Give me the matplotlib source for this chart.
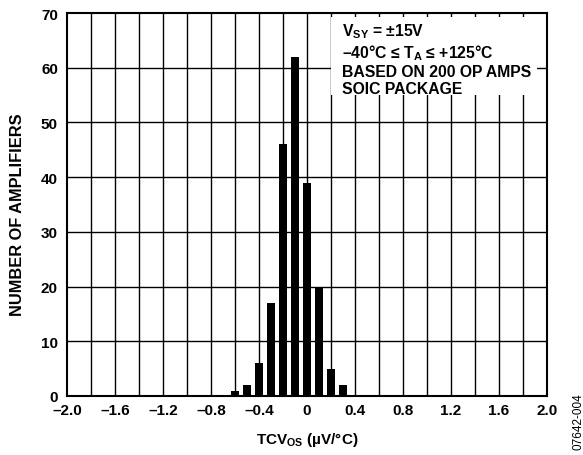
import matplotlib
matplotlib.use("Agg")
import matplotlib.pyplot as plt
from matplotlib.patches import Rectangle
import numpy as np

plt.rcParams['font.family'] = ['Liberation Sans', 'DejaVu Sans']
plt.rcParams['font.weight'] = 'bold'
plt.rcParams['mathtext.fontset'] = 'custom'
plt.rcParams['mathtext.rm'] = 'Liberation Sans:bold'
plt.rcParams['mathtext.bf'] = 'Liberation Sans:bold'
plt.rcParams['mathtext.it'] = 'Liberation Sans:bold'

bin_centers = [-0.6, -0.5, -0.4, -0.3, -0.2, -0.1, 0.0, 0.1, 0.2, 0.3]
counts = [1, 2, 6, 17, 46, 62, 39, 20, 5, 2]
xticks = [-2.0, -1.6, -1.2, -0.8, -0.4, 0, 0.4, 0.8, 1.2, 1.6, 2.0]
xtick_labels = ['–2.0', '–1.6', '–1.2', '–0.8', '–0.4', '0', '0.4', '0.8', '1.2', '1.6', '2.0']
yticks = [0, 10, 20, 30, 40, 50, 60, 70]

W, H = 583, 456
fig = plt.figure(figsize=(W/100, H/100), dpi=100)
ax = fig.add_axes([67/W, 1-397/H, 480/W, 383/H])

ax.set_xlim(-2.0, 2.0)
ax.set_ylim(0, 70)
for xv in np.arange(-1.8, 2.0, 0.2):
    ax.axvline(xv, color='black', lw=1.0, zorder=1)
for yv in yticks[1:-1]:
    ax.axhline(yv, color='black', lw=1.0, zorder=1)

ax.bar(bin_centers, counts, width=0.063, color='black', zorder=3)

ax.set_xticks(xticks)
ax.set_xticklabels(xtick_labels, fontsize=11, fontweight='bold')
ax.set_yticks(yticks)
ax.set_yticklabels([str(v) for v in yticks], fontsize=11, fontweight='bold')
ax.tick_params(axis='x', length=0, pad=5)
ax.tick_params(axis='y', length=0, pad=6.5)
for s in ax.spines.values():
    s.set_linewidth(1.5)
    s.set_zorder(5)

fig.text(307/W, 1-444/H, 'TCV$_{\\mathrm{OS}}$ (µV/°C)', fontsize=11, fontweight='bold',
         ha='center', va='baseline')
fig.text(18/W, 1-215/H, 'NUMBER OF AMPLIFIERS', fontsize=11.8, fontweight='bold',
         rotation=90, ha='center', va='center')

ax.add_patch(Rectangle((0.2, 55.0), 1.72, 14.3, facecolor='white', edgecolor='none', zorder=2))
txt = ('V$_{\\mathrm{SY}}$ = ±15V\n'
       '–40°C ≤ T$_{\\mathrm{A}}$ ≤ +125°C\n'
       'BASED ON 200 OP AMPS\n'
       'SOIC PACKAGE')
ax.text(0.29, 68.4, txt, fontsize=11.3, fontweight='bold', va='top', ha='left',
        linespacing=1.14, zorder=4)

fig.text(578/W, 1-422/H, '07642-004', rotation=90, fontsize=8.5,
         fontweight='normal', ha='center', va='center')

fig.savefig('out.png', dpi=100)
